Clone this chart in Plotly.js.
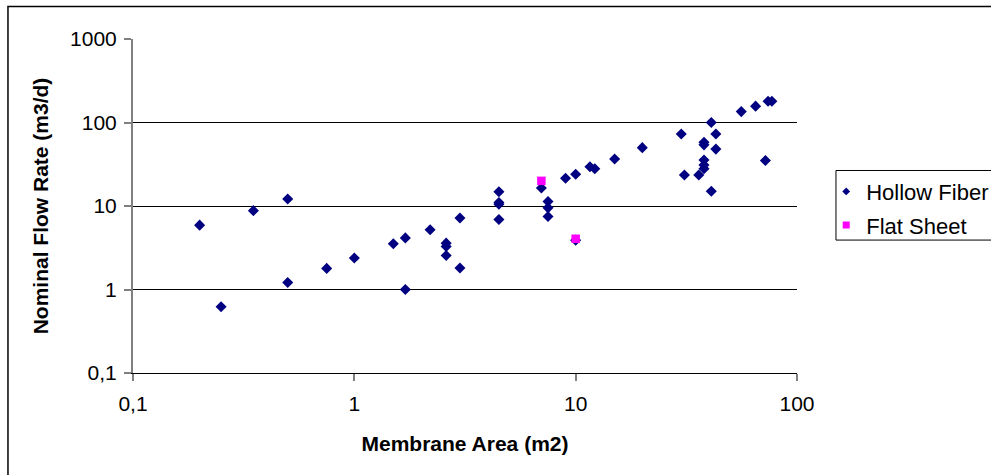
<!DOCTYPE html>
<html>
<head>
<meta charset="utf-8">
<script src="https://cdn.plot.ly/plotly-3.0.1.min.js"></script>
<style>
html, body { margin: 0; padding: 0; background: #fff; }
#chart { width: 991px; height: 475px; }
</style>
</head>
<body>
<div id="chart"></div>
<script>
// Hollow Fiber modules
const hollowArea = [0.2, 0.25, 0.35, 0.5, 0.5, 0.75, 1, 1.5, 1.7, 1.7, 2.2, 2.6, 2.6, 2.6, 3, 3,
  4.5, 4.5, 4.5, 4.5, 7, 7.5, 7.5, 7.5, 9, 10, 10, 11.6, 12.2, 15, 20, 30, 31, 36,
  38, 38, 38, 38, 38, 41, 41, 43, 43, 56, 65, 72, 74, 77];
const hollowFlow = [5.9, 0.62, 8.8, 12.1, 1.21, 1.79, 2.38, 3.53, 4.15, 1.0, 5.2, 3.59, 3.28, 2.56, 7.2, 1.81,
  14.8, 11.0, 10.5, 6.9, 16.4, 11.3, 9.5, 7.5, 21.5, 24, 3.9, 29.5, 28, 36.5, 50, 73, 23.5, 23.5,
  58, 54, 35.5, 31, 28, 100, 15, 73, 48, 135, 157, 35, 180, 180];
// Flat Sheet modules
const flatArea = [7, 10];
const flatFlow = [20, 4.05];

const seriesNames = ['Hollow Fiber', 'Flat Sheet'];
const xTickVals = [0.1, 1, 10, 100];
const xTickText = ['0,1', '1', '10', '100'];
const yTickVals = [0.1, 1, 10, 100, 1000];
const yTickText = ['0,1', '1', '10', '100', '1000'];

const font = 'Arial, "Liberation Sans", sans-serif';
const hollowColor = '#000080';
const flatColor = '#FF00FF';

const traces = [
  {
    x: hollowArea, y: hollowFlow, type: 'scatter', mode: 'markers', name: seriesNames[0],
    showlegend: false, cliponaxis: false,
    marker: { symbol: 'diamond', size: 8.5, color: hollowColor, line: { width: 0 } }
  },
  {
    x: flatArea, y: flatFlow, type: 'scatter', mode: 'markers', name: seriesNames[1],
    showlegend: false, cliponaxis: false,
    marker: { symbol: 'square', size: 8.5, color: flatColor, line: { width: 0 } }
  },
  // legend entries (smaller legend symbols, as in the reference)
  {
    x: [null], y: [null], type: 'scatter', mode: 'markers', name: seriesNames[0], legendgroup: 'a',
    marker: { symbol: 'diamond', size: 6, color: hollowColor, line: { width: 0 } }
  },
  {
    x: [null], y: [null], type: 'scatter', mode: 'markers', name: seriesNames[1], legendgroup: 'b',
    marker: { symbol: 'square', size: 7, color: flatColor, line: { width: 0 } }
  }
];

const layout = {
  width: 991, height: 475,
  margin: { l: 133, r: 194, t: 39, b: 102, autoexpand: false },
  paper_bgcolor: '#fff', plot_bgcolor: '#fff',
  font: { family: font, color: '#000', size: 20 },
  showlegend: true,
  xaxis: {
    type: 'log', range: [-1, 2],
    tickvals: xTickVals, ticktext: xTickText,
    showgrid: false, zeroline: false,
    showline: true, linecolor: '#000', linewidth: 1,
    ticks: 'outside', ticklen: 7, tickcolor: '#808080', tickwidth: 2,
    ticklabelstandoff: 5,
    tickfont: { family: font, size: 21, color: '#000' },
    title: { text: 'Membrane Area (m2)', font: { family: font, size: 21, color: '#000', weight: 'bold' }, standoff: 22 }
  },
  yaxis: {
    type: 'log', range: [-1, 3],
    tickvals: yTickVals, ticktext: yTickText,
    showgrid: true, gridcolor: '#000', gridwidth: 1, zeroline: false,
    showline: true, linecolor: '#808080', linewidth: 2,
    ticks: 'outside', ticklen: 7, tickcolor: '#808080', tickwidth: 2,
    ticklabelstandoff: 3,
    tickfont: { family: font, size: 21, color: '#000' },
    title: { text: 'Nominal Flow Rate (m3/d)', font: { family: font, size: 21, color: '#000', weight: 'bold' }, standoff: 16 }
  },
  legend: {
    x: 1.044, y: 0.606, xanchor: 'left', yanchor: 'top',
    borderwidth: 0, bgcolor: 'rgba(0,0,0,0)',
    font: { family: font, size: 22, color: '#000' },
    tracegroupgap: 2, itemsizing: 'trace'
  },
  shapes: [
    { type: 'rect', xref: 'paper', yref: 'paper', x0: -0.1883, x1: 1.6, y0: -0.6, y1: 1.0973,
      line: { color: '#000', width: 1.5 }, fillcolor: 'rgba(0,0,0,0)', layer: 'below' },
    { type: 'rect', xref: 'paper', yref: 'paper', x0: 1.0587, x1: 1.6, y0: 0.398, y1: 0.6063,
      line: { color: '#000', width: 1 }, fillcolor: '#fff', layer: 'below' }
  ]
};

Plotly.newPlot('chart', traces, layout, { displayModeBar: false, staticPlot: true });
</script>
</body>
</html>
